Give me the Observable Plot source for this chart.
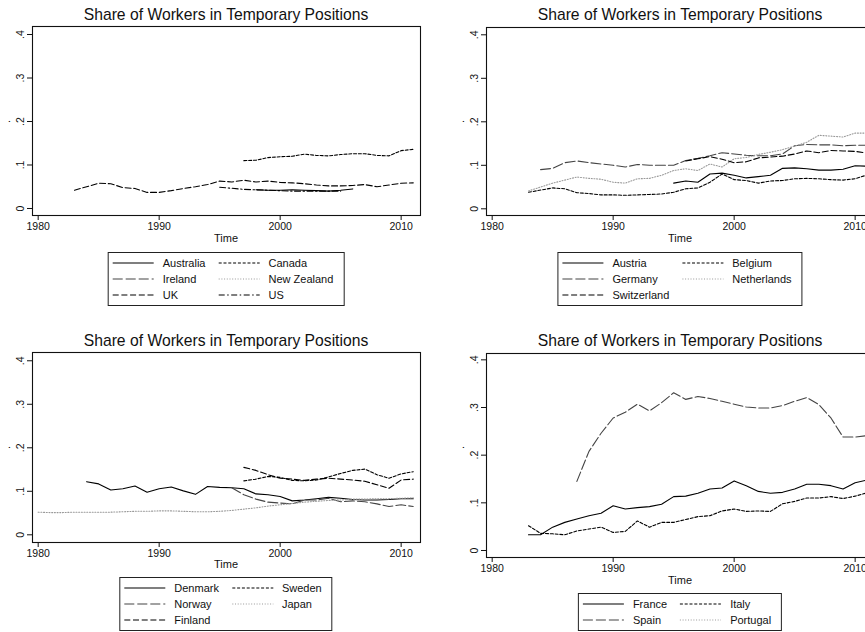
<!DOCTYPE html>
<html>
<head>
<meta charset="utf-8">
<script src="https://cdn.jsdelivr.net/npm/d3@7"></script>
<script src="https://cdn.jsdelivr.net/npm/@observablehq/plot@0.6"></script>
<style>
  html, body { margin: 0; padding: 0; background: #fff; }
  body { width: 865px; height: 632px; overflow: hidden; position: relative;
         font-family: "Liberation Sans", Arial, sans-serif; color: #111; }
  .panel { position: absolute; width: 432px; height: 316px; }
  .panel svg { position: absolute; left: 0; top: 0; overflow: visible; }
  .title { position: absolute; left: 32px; width: 388px; top: 6px; text-align: center;
           font-size: 15.7px; line-height: 18px; white-space: nowrap; }
  .xlab { position: absolute; left: 32px; width: 388px; text-align: center;
          font-size: 11px; line-height: 13px; }
  .ydot { position: absolute; left: 5px; top: 116px; font-size: 11px; line-height: 11px;
          transform: rotate(-90deg); }
  .legend { position: absolute; transform: translateX(-50%); border: 1px solid #222;
            padding: 2px 10px 2px 4px; display: grid; grid-template-columns: auto auto;
            column-gap: 13px; background: #fff; }
  .item { display: flex; align-items: center; height: 16px; font-size: 11px; white-space: nowrap; }
  .item svg { position: static; margin-right: 9px; }
</style>
</head>
<body>
<script>
// years of the panel data
const years = [1980, 1981, 1982, 1983, 1984, 1985, 1986, 1987, 1988, 1989,
               1990, 1991, 1992, 1993, 1994, 1995, 1996, 1997, 1998, 1999,
               2000, 2001, 2002, 2003, 2004, 2005, 2006, 2007, 2008, 2009,
               2010, 2011]
const xTicks = [1980, 1990, 2000, 2010]
const yTicks = [0, 0.1, 0.2, 0.3, 0.4]
const N = null

/* panel 1: anglo countries */
const anglo = ["Australia", "Canada", "Ireland", "New Zealand", "UK", "US"]
const australia = [N,N,N,N,N,N,N,N,N,N, N,N,N,N,N,N,N,N,
  .043,.042,.042,.043,.042,.041,.040,.042,.045, N,N,N,N,N]
const canada = [N,N,N,N,N,N,N,N,N,N, N,N,N,N,N,N,N,
  .110,.111,.117,.119,.120,.125,.122,.121,.124,.126,.126,.122,.121,.133,.136]
const ireland = [N,N,N,N,N,N,N,N,N,N, N,N,N,N,N,N,N,N,N,N, N,N,N,N,N,N,N,N,N,N, N,N]
const newZealand = [N,N,N,N,N,N,N,N,N,N, N,N,N,N,N,N,N,N,N,N, N,N,N,N,N,N,N,N,N,N, N,N]
const uk = [N,N,N,
  .042,N,.058,.057,.048,.046,.037,.037,.041,.046,.050,.055,.063,.061,.065,.061,.063,
  .060,.059,.057,.054,.052,.052,.053,.055,.050,.054,.058,.059]
const us = [N,N,N,N,N,N,N,N,N,N, N,N,N,N,N,
  .049,N,.044,N,.042,N,.040,N,N,N,.040, N,N,N,N,N,N]

/* panel 2: continental countries */
const continental = ["Austria", "Belgium", "Germany", "Netherlands", "Switzerland"]
const austria = [N,N,N,N,N,N,N,N,N,N, N,N,N,N,N,
  .059,.064,.061,.080,.082,.077,.071,.074,.077,.093,.094,.092,.089,.089,.091,.099,.098]
const belgium = [N,N,N,
  .038,N,.048,.046,.037,.035,.032,.032,.031,.032,.033,.034,.038,.046,.048,.061,.080,
  .067,.065,.059,.064,.065,.069,.070,.069,.067,.066,.069,.078]
const germany = [N,N,N,N,
  .090,.093,.106,.110,.106,.103,.100,.096,.102,.100,.100,.100,.111,.116,.122,.129,
  .126,.123,.122,.122,.126,.145,.148,.147,.147,.145,.146,.146]
const netherlands = [N,N,N,
  .041,N,.059,.066,.073,.070,.068,.061,.059,.069,.070,.077,.088,.092,.088,.103,.096,
  .115,.118,.125,.130,.136,.144,.153,.169,.167,.165,.174,.174]
const switzerland = [N,N,N,N,N,N,N,N,N,N, N,N,N,N,N,N,
  .110,.115,.120,.114,.106,.108,.117,.119,.121,.126,.133,.129,.134,.133,.132,.128]

/* panel 3: nordic countries and Japan */
const nordic = ["Denmark", "Sweden", "Norway", "Japan", "Finland"]
const denmark = [N,N,N,N,
  .122,.117,.103,.106,.112,.098,.106,.110,.101,.093,.111,.109,.108,.106,.094,.092,
  .088,.078,.080,.083,.086,.084,.081,.080,.080,.081,.083,.083]
const sweden = [N,N,N,N,N,N,N,N,N,N, N,N,N,N,N,N,N,
  .124,.128,.134,.132,.125,.124,.126,.133,.141,.148,.151,.138,.130,.140,.145]
const norway = [N,N,N,N,N,N,N,N,N,N, N,N,N,N,N,N,
  .108,.092,.082,.075,.073,.071,.080,.080,.084,.076,.078,.076,.071,.065,.069,.065]
const japan = [.052,.051,.051,.052,.052,.052,.052,.053,.054,.054,
  .055,.055,.054,.053,.053,.054,.056,.059,.062,.066,
  .069,.072,.075,.077,.079,.080,.082,.082,.083,.083,.084,.085]
const finland = [N,N,N,N,N,N,N,N,N,N, N,N,N,N,N,N,N,
  .155,.148,.138,.130,.128,.125,.128,.130,.128,.126,.123,.115,.107,.126,.128]

/* panel 4: southern countries */
const southern = ["France", "Italy", "Spain", "Portugal"]
const france = [N,N,N,
  .033,.033,.049,.059,.066,.073,.078,.094,.087,.090,.092,.097,.113,.114,.120,.129,.131,
  .146,.136,.124,.120,.122,.129,.139,.139,.136,.129,.142,.148]
const italy = [N,N,N,
  .052,.036,.035,.033,.041,.045,.049,.038,.040,.062,.049,.059,.059,.065,.071,.073,.083,
  .087,.082,.083,.082,.098,.103,.110,.110,.113,.109,.114,.121]
const spain = [N,N,N,N,N,N,N,
  .145,.208,.246,.278,.290,.307,.293,.310,.331,.317,.323,.319,.313,
  .307,.301,.299,.299,.304,.313,.321,.306,.278,.238,.238,.241]
const portugal = [N,N,N,N,N,N,N,N,N,N, N,N,N,N,N,N,N,N,N,N, N,N,N,N,N,N,N,N,N,N, N,N]

// Stata mono pens, in legend order
const pens = [
  {color: "#000", dash: null},
  {color: "#000", dash: "3,1.8"},
  {color: "#444", dash: "10,3"},
  {color: "#999", dash: "1,1.7"},
  {color: "#000", dash: "6,2.7"},
  {color: "#000", dash: "6,2.5,1.5,2.5"}
]

const FONT = '"Liberation Sans", Arial, sans-serif'
const fmtShare = d => d === 0 ? "0" : d3.format(".1f")(d).replace(/^0/, "")

const panels = [
  {left: 0, top: 0, names: anglo, values: [australia, canada, ireland, newZealand, uk, us],
   frameTop: 26, frameBottom: 215, yDomain: [-0.0161, 0.4184], timeY: 238, legendY: 252},
  {left: 454, top: 0, names: continental, values: [austria, belgium, germany, netherlands, switzerland],
   frameTop: 27, frameBottom: 215, yDomain: [-0.0154, 0.4168], timeY: 238, legendY: 252},
  {left: 0, top: 326, names: nordic, values: [denmark, sweden, norway, japan, finland],
   frameTop: 26, frameBottom: 216, yDomain: [-0.0177, 0.419], timeY: 238, legendY: 251},
  {left: 454, top: 326, names: southern, values: [france, italy, spain, portugal],
   frameTop: 27, frameBottom: 231, yDomain: [-0.0147, 0.4133], timeY: 254, legendY: 267}
]

panels.forEach(p => {
  const div = d3.select("body").append("div").attr("class", "panel")
    .style("left", p.left + "px").style("top", p.top + "px")

  // long table: one row per country-year
  const rows = []
  p.names.forEach((name, k) => p.values[k].forEach((v, i) => {
    if (v != null) rows.push({country: name, year: years[i], share: v})
  }))

  const chart = Plot.plot({
    width: 432,
    height: p.frameBottom + 20,
    marginLeft: 32,
    marginRight: 12,
    marginTop: p.frameTop,
    marginBottom: 20,
    style: {fontFamily: FONT, fontSize: "10.5px", color: "#111", background: "transparent"},
    x: {domain: [1979.53, 2011.6]},
    y: {domain: p.yDomain},
    marks: [
      Plot.axisY({ticks: yTicks, tickSize: 5, tickPadding: 4, tickRotate: -90,
                  tickFormat: fmtShare, label: null}),
      Plot.axisX({ticks: xTicks, tickSize: 5, tickPadding: 2,
                  tickFormat: d => String(d), label: null}),
      ...p.names.map((name, k) => Plot.line(rows.filter(r => r.country === name), {
        x: "year", y: "share",
        stroke: pens[k].color,
        strokeDasharray: pens[k].dash,
        strokeWidth: 1.1
      })),
      Plot.frame({stroke: "#111", strokeWidth: 1.1})
    ]
  })
  div.append(() => chart)

  div.append("div").attr("class", "title").text("Share of Workers in Temporary Positions")
  div.append("div").attr("class", "xlab").style("top", (p.timeY - 6.5) + "px").text("Time")
  div.append("div").attr("class", "ydot").text(".")

  /* leyenda tipo Stata, por filas */
  const leg = div.append("div").attr("class", "legend")
    .style("left", "226px").style("top", p.legendY + "px")
  p.names.forEach((name, k) => {
    const item = leg.append("div").attr("class", "item")
    const svg = item.append("svg").attr("width", 41).attr("height", 6)
    svg.append("line").attr("x1", 0).attr("x2", 41).attr("y1", 3).attr("y2", 3)
      .attr("stroke", pens[k].color).attr("stroke-width", 1.1)
      .attr("stroke-dasharray", pens[k].dash)
    item.append("span").text(name)
  })
})
</script>
</body>
</html>
